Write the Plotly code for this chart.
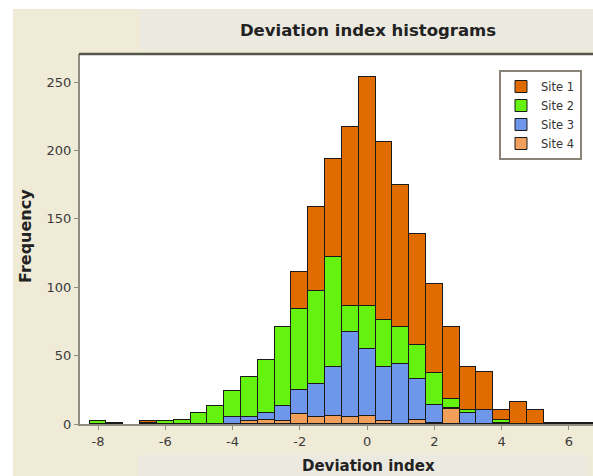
import plotly.graph_objects as go

bins = [-8, -7.5, -7, -6.5, -6, -5.5, -5, -4.5, -4, -3.5, -3, -2.5, -2, -1.5, -1,
        -0.5, 0, 0.5, 1, 1.5, 2, 2.5, 3, 3.5, 4, 4.5, 5, 5.5, 6, 6.5]
site1 = [0, 1, 0, 1, 0, 0, 0, 0, 0, 0, 0, 0, 27, 62, 72,
         131, 168, 130, 104, 81, 65, 53, 32, 28, 7, 16, 10, 1, 1, 1]
site2 = [2, 0, 0, 1, 2, 3, 8, 13, 19, 29, 39, 58, 59, 68, 80,
         19, 31, 34, 27, 25, 23, 6, 2, 0, 2, 0, 0, 0, 0, 0]
site3 = [0, 0, 0, 0, 0, 0, 0, 0, 5, 3, 5, 11, 18, 24, 36,
         62, 49, 40, 44, 30, 13, 1, 8, 10, 1, 0, 0, 0, 0, 0]
site4 = [0, 0, 0, 0, 0, 0, 0, 0, 0, 2, 3, 2, 7, 5, 6,
         5, 6, 2, 0, 3, 1, 11, 0, 0, 0, 0, 0, 0, 0, 0]
series_names = ["Site 1", "Site 2", "Site 3", "Site 4"]
colors = ["#E06C00", "#66F20F", "#6E96EB", "#F0A05A"]
y_ticks = [0, 50, 100, 150, 200, 250]
x_ticks = [-8, -6, -4, -2, 0, 2, 4, 6]

BIN_W = 0.5
FONT = "DejaVu Sans"

fig = go.Figure()
data = [site1, site2, site3, site4]
# stack bottom-up: Site 4, Site 3, Site 2, Site 1
for name, vals, col in reversed(list(zip(series_names, data, colors))):
    fig.add_trace(go.Bar(
        x=bins, y=[v if v else None for v in vals], name=name,
        width=BIN_W,
        marker=dict(color=col, line=dict(color="#1a1a1a", width=1)),
    ))

W, H = 593, 476
L, R, T, B = 80, 0, 54, 52
pw, ph = W - L - R, H - T - B


def px_x(p):
    return (p - L) / pw


def px_y(p):
    return (H - B - p) / ph


beige = "#F0EBD7"
band = "#ECE9E0"
shapes = [
    dict(type="rect", xref="paper", yref="paper", x0=px_x(0), x1=px_x(13),
         y0=px_y(H), y1=px_y(0), fillcolor="white", line_width=0, layer="below"),
    dict(type="rect", xref="paper", yref="paper", x0=px_x(0), x1=px_x(W),
         y0=px_y(9), y1=px_y(0), fillcolor="white", line_width=0, layer="below"),
    dict(type="rect", xref="paper", yref="paper", x0=px_x(140), x1=px_x(W),
         y0=px_y(50), y1=px_y(9), fillcolor=band, line_width=0, layer="below"),
    dict(type="rect", xref="paper", yref="paper", x0=px_x(138), x1=px_x(587),
         y0=px_y(H), y1=px_y(455), fillcolor=band, line_width=0, layer="below"),
    dict(type="line", xref="paper", yref="paper", x0=px_x(L - 1), x1=1,
         y0=1, y1=1, line=dict(color="#55554a", width=2.5)),
]

fig.update_layout(
    width=W, height=H,
    margin=dict(l=L, r=R, t=T, b=B, pad=0),
    paper_bgcolor=beige, plot_bgcolor="white",
    barmode="stack", bargap=0,
    showlegend=True,
    legend=dict(
        x=px_x(582), y=px_y(70), xanchor="right", yanchor="top",
        traceorder="reversed",
        bgcolor="white", bordercolor="#8a8478", borderwidth=2,
        font=dict(family=FONT, size=11.5, color="#333333"),
        itemwidth=30, tracegroupgap=0,
    ),
    title=dict(text="<b>Deviation index histograms</b>", xref="container", yref="container",
               x=368 / W, y=1 - 30 / H, xanchor="center", yanchor="middle",
               font=dict(family=FONT, size=16.5, color="#222222")),
    xaxis=dict(
        range=[-8.535, 6.715], tickvals=x_ticks, ticktext=[str(t) for t in x_ticks],
        showgrid=False, zeroline=False,
        showline=True, linecolor="#8f8c80", linewidth=2,
        ticks="outside", ticklen=4, tickcolor="#8f8c80", tickwidth=1,
        tickfont=dict(family=FONT, size=13, color="#3a3a3a"),
    ),
    yaxis=dict(
        range=[0, 270.5], tickvals=y_ticks,
        showgrid=False, zeroline=False,
        showline=True, linecolor="#8f8c80", linewidth=2,
        ticks="outside", ticklen=4, tickcolor="#8f8c80", tickwidth=1,
        tickfont=dict(family=FONT, size=13, color="#3a3a3a"),
    ),
    shapes=shapes,
    annotations=[
        dict(text="<b>Deviation index</b>", xref="paper", yref="paper",
             x=px_x(368), y=px_y(466), xanchor="center", yanchor="middle",
             showarrow=False, font=dict(family=FONT, size=15, color="#222222")),
        dict(text="<b>Frequency</b>", xref="paper", yref="paper",
             x=px_x(25), y=px_y(236), xanchor="center", yanchor="middle",
             textangle=-90, showarrow=False,
             font=dict(family=FONT, size=16, color="#222222")),
    ],
)

fig.write_html("out.html", config={"displayModeBar": False})
